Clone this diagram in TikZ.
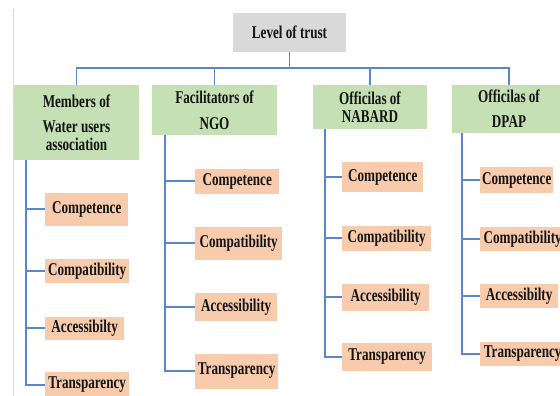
\documentclass[tikz,border=0pt]{standalone}
\usepackage{fontspec}
\setmainfont{Liberation Serif}[FakeStretch=0.73]
\usepackage{tikz}
\definecolor{boxgray}{HTML}{D9D9D9}
\definecolor{boxgreen}{HTML}{C5E0B4}
\definecolor{boxorange}{HTML}{F8CBAD}
\definecolor{linkblue}{HTML}{5B86CF}
\definecolor{textdark}{HTML}{141414}

\begin{document}
\begin{tikzpicture}[x=1pt,y=-1pt,
  box/.style={inner sep=1pt,align=center,text=textdark,
    font=\fontsize{18}{20}\selectfont\bfseries},
  head/.style={box,fill=boxgreen},
  trait/.style={box,fill=boxorange,anchor=west},
  link/.style={linkblue,line width=1.4pt}]
\useasboundingbox (0,0) rectangle (560,396);
%\draw[step=20,lightgray,very thin] (0,0) grid (560,396);
\draw[boxgray,line width=1pt] (13,9) -- (13,396);

\node[box,fill=boxgray,minimum width=113,minimum height=39] (root) at (289.5,32.5) {Level of trust};

\node[head,minimum width=125,minimum height=75] (mwua) at (76.5,122.5) {Members of\\[5pt]Water users\\[-2pt]association};
\node[head,minimum width=125,minimum height=50] (ngo) at (214.5,110) {Facilitators of\\[6pt]NGO};
\node[head,minimum width=114,minimum height=44] (nabard) at (370,107) {Officilas of\\[-2pt]NABARD};
\node[head,minimum width=114,minimum height=48] (dpap) at (509,109) {Officilas of\\[5pt]DPAP};

\draw[link] (root.south) -- ++(0,16) coordinate (bus);
\draw[link] (mwua.north) |- (bus);
\draw[link] (ngo.north) |- (bus);
\draw[link] (nabard.north) |- (bus);
\draw[link] (dpap.north) |- (bus);

\node[trait,minimum width=83,minimum height=33] (w1) at (45,209) {Competence};
\node[trait,minimum width=84,minimum height=24] (w2) at (45,271) {Compatibility};
\node[trait,minimum width=79,minimum height=23] (w3) at (45,328) {Accessibilty};
\node[trait,minimum width=84,minimum height=26] (w4) at (45,385) {Transparency};

\node[trait,minimum width=84,minimum height=25] (n1) at (195,181) {Competence};
\node[trait,minimum width=87,minimum height=33] (n2) at (195,243) {Compatibility};
\node[trait,minimum width=82,minimum height=28] (n3) at (195,307) {Accessibility};
\node[trait,minimum width=83,minimum height=35] (n4) at (195,371) {Transparency};

\node[trait,minimum width=81,minimum height=30] (b1) at (342,177) {Competence};
\node[trait,minimum width=89,minimum height=25] (b2) at (342,238) {Compatibility};
\node[trait,minimum width=87,minimum height=27] (b3) at (342,297) {Accessibility};
\node[trait,minimum width=90,minimum height=28] (b4) at (342,357) {Transparency};

\node[trait,minimum width=73,minimum height=26] (d1) at (480,180) {Competence};
\node[trait,minimum width=85,minimum height=24] (d2) at (480,239) {Compatibility};
\node[trait,minimum width=78,minimum height=24] (d3) at (480,296) {Accessibilty};
\node[trait,minimum width=85,minimum height=24] (d4) at (480,354) {Transparency};

\coordinate (sw) at ([xshift=12pt]mwua.south west);
\coordinate (sn) at ([xshift=13pt]ngo.south west);
\coordinate (sb) at ([xshift=12pt]nabard.south west);
\coordinate (sd) at ([xshift=10pt]dpap.south west);

\draw[link] (sw) |- (w4.west);
\draw[link] (sn) |- (n4.west);
\draw[link] (sb) |- (b4.west);
\draw[link] (sd) |- (d4.west);

\foreach \i in {1,2,3} {
  \draw[link] (w\i.west) -- (w\i.west -| sw);
  \draw[link] (n\i.west) -- (n\i.west -| sn);
  \draw[link] (b\i.west) -- (b\i.west -| sb);
  \draw[link] (d\i.west) -- (d\i.west -| sd);
}
\end{tikzpicture}
\end{document}
